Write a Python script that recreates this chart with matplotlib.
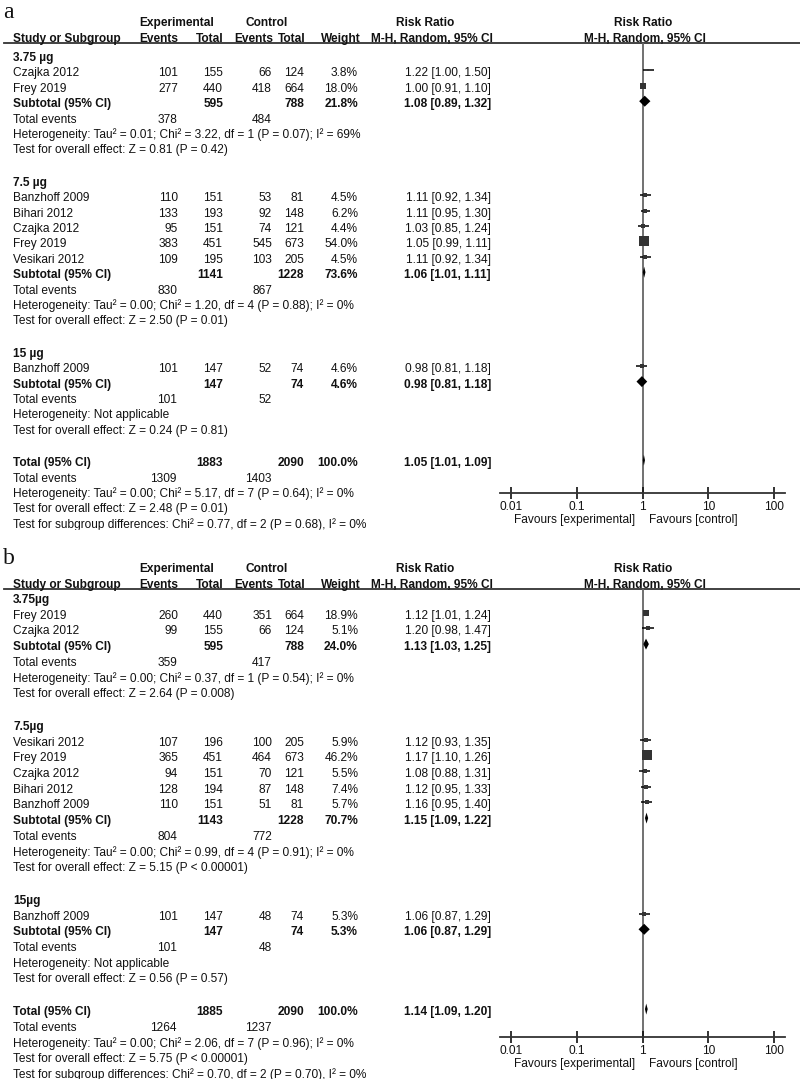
import matplotlib
matplotlib.use("Agg")
import matplotlib.pyplot as plt
import numpy as np
from matplotlib.patches import Rectangle
from matplotlib.ticker import NullLocator

W, H = 800, 1079
FS = 8.6
plt.rcParams["font.family"] = ["Liberation Sans", "DejaVu Sans"]

# ---- panel a ----
groups_a = ["3.75 µg", "7.5 µg", "15 µg"]
studies_a = [["Czajka 2012", "Frey 2019"],
             ["Banzhoff 2009", "Bihari 2012", "Czajka 2012", "Frey 2019", "Vesikari 2012"],
             ["Banzhoff 2009"]]
exp_events_a = [[101, 277], [110, 133, 95, 383, 109], [101]]
exp_total_a = [[155, 440], [151, 193, 151, 451, 195], [147]]
ctrl_events_a = [[66, 418], [53, 92, 74, 545, 103], [52]]
ctrl_total_a = [[124, 664], [81, 148, 121, 673, 205], [74]]
weight_a = [[3.8, 18.0], [4.5, 6.2, 4.4, 54.0, 4.5], [4.6]]
rr_a = [[1.22, 1.00], [1.11, 1.11, 1.03, 1.05, 1.11], [0.98]]
lo_a = [[1.00, 0.91], [0.92, 0.95, 0.85, 0.99, 0.92], [0.81]]
hi_a = [[1.50, 1.10], [1.34, 1.30, 1.24, 1.11, 1.34], [1.18]]
sub_exp_total_a = [595, 1141, 147]
sub_ctrl_total_a = [788, 1228, 74]
sub_weight_a = [21.8, 73.6, 4.6]
sub_rr_a = [1.08, 1.06, 0.98]
sub_lo_a = [0.89, 1.01, 0.81]
sub_hi_a = [1.32, 1.11, 1.18]
sub_exp_events_a = [378, 830, 101]
sub_ctrl_events_a = [484, 867, 52]
het_a = ["Tau² = 0.01; Chi² = 3.22, df = 1 (P = 0.07); I² = 69%",
         "Tau² = 0.00; Chi² = 1.20, df = 4 (P = 0.88); I² = 0%",
         "Not applicable"]
z_a = ["Z = 0.81 (P = 0.42)", "Z = 2.50 (P = 0.01)", "Z = 0.24 (P = 0.81)"]
total_a = [1883, 2090, 100.0, 1.05, 1.01, 1.09]
total_events_a = [1309, 1403]
total_het_a = "Tau² = 0.00; Chi² = 5.17, df = 7 (P = 0.64); I² = 0%"
total_z_a = "Z = 2.48 (P = 0.01)"
subdiff_a = "Chi² = 0.77, df = 2 (P = 0.68), I² = 0%"

# ---- panel b ----
groups_b = ["3.75µg", "7.5µg", "15µg"]
studies_b = [["Frey 2019", "Czajka 2012"],
             ["Vesikari 2012", "Frey 2019", "Czajka 2012", "Bihari 2012", "Banzhoff 2009"],
             ["Banzhoff 2009"]]
exp_events_b = [[260, 99], [107, 365, 94, 128, 110], [101]]
exp_total_b = [[440, 155], [196, 451, 151, 194, 151], [147]]
ctrl_events_b = [[351, 66], [100, 464, 70, 87, 51], [48]]
ctrl_total_b = [[664, 124], [205, 673, 121, 148, 81], [74]]
weight_b = [[18.9, 5.1], [5.9, 46.2, 5.5, 7.4, 5.7], [5.3]]
rr_b = [[1.12, 1.20], [1.12, 1.17, 1.08, 1.12, 1.16], [1.06]]
lo_b = [[1.01, 0.98], [0.93, 1.10, 0.88, 0.95, 0.95], [0.87]]
hi_b = [[1.24, 1.47], [1.35, 1.26, 1.31, 1.33, 1.40], [1.29]]
sub_exp_total_b = [595, 1143, 147]
sub_ctrl_total_b = [788, 1228, 74]
sub_weight_b = [24.0, 70.7, 5.3]
sub_rr_b = [1.13, 1.15, 1.06]
sub_lo_b = [1.03, 1.09, 0.87]
sub_hi_b = [1.25, 1.22, 1.29]
sub_exp_events_b = [359, 804, 101]
sub_ctrl_events_b = [417, 772, 48]
het_b = ["Tau² = 0.00; Chi² = 0.37, df = 1 (P = 0.54); I² = 0%",
         "Tau² = 0.00; Chi² = 0.99, df = 4 (P = 0.91); I² = 0%",
         "Not applicable"]
z_b = ["Z = 2.64 (P = 0.008)", "Z = 5.15 (P < 0.00001)", "Z = 0.56 (P = 0.57)"]
total_b = [1885, 2090, 100.0, 1.14, 1.09, 1.20]
total_events_b = [1264, 1237]
total_het_b = "Tau² = 0.00; Chi² = 2.06, df = 7 (P = 0.96); I² = 0%"
total_z_b = "Z = 5.75 (P < 0.00001)"
subdiff_b = "Chi² = 0.70, df = 2 (P = 0.70), I² = 0%"

ticks = [0.01, 0.1, 1, 10, 100]
tick_labels = ["0.01", "0.1", "1", "10", "100"]

# column right edges (px)
X_NAME, X_EE, X_ET, X_CE, X_CT, X_W, X_RR = 13, 178, 223, 272, 304, 358, 491


def ci_text(rr, lo, hi):
    return f"{rr:.2f} [{lo:.2f}, {hi:.2f}]"


def draw_panel(fig, tax, p, label, rule_y, start, step, gap, axis_y):
    def txt(x, yc, s, ha="right", bold=False):
        # snap baselines to whole pixels so a row stays on one line
        tax.text(x, round(yc + 4), s, ha=ha, va="baseline", fontsize=FS,
                 fontweight="bold" if bold else "normal", color="#111")

    tax.text(3, rule_y - 25, label, fontsize=17, family="Liberation Serif",
             va="baseline", color="#111")
    l1, l2 = rule_y - 21, rule_y - 5
    txt(177, l1, "Experimental", "center", True)
    txt(267, l1, "Control", "center", True)
    txt(425, l1, "Risk Ratio", "center", True)
    txt(643, l1, "Risk Ratio", "center", True)
    txt(X_NAME, l2, "Study or Subgroup", "left", True)
    txt(X_EE, l2, "Events", bold=True)
    txt(X_ET, l2, "Total", bold=True)
    txt(X_CE + 1, l2, "Events", bold=True)
    txt(X_CT + 1, l2, "Total", bold=True)
    txt(X_W + 3, l2, "Weight", bold=True)
    txt(432, l2, "M-H, Random, 95% CI", "center", True)
    txt(645, l2, "M-H, Random, 95% CI", "center", True)
    tax.plot([4, 800], [rule_y, rule_y], color="#333", lw=1.3)

    fax = fig.add_axes([500 / W, 1 - axis_y / H, 285 / W, (axis_y - rule_y) / H])
    fax.set_xscale("log")
    fax.set_xlim(10 ** -2.167, 10 ** 2.167)
    fax.set_ylim(axis_y, rule_y)
    fax.patch.set_alpha(0)
    for s in ["left", "right", "top"]:
        fax.spines[s].set_visible(False)
    fax.spines["bottom"].set_color("#333")
    fax.spines["bottom"].set_linewidth(1.3)
    fax.set_yticks([])
    fax.set_xticks(ticks)
    fax.set_xticklabels(tick_labels)
    fax.xaxis.set_minor_locator(NullLocator())
    fax.tick_params(axis="x", direction="inout", length=8, width=1.2, pad=1.5,
                    labelsize=FS, colors="#111")
    fax.axvline(1, color="#666", lw=1.3, zorder=1)

    def diamond(y, rr, lo, hi):
        fax.fill([lo, rr, hi, rr], [y, y - 5.5, y, y + 5.5], color="black", lw=0, zorder=3)

    y = start
    for g, gname in enumerate(p["groups"]):
        txt(X_NAME, y, gname, "left", True)
        y += step
        for i, st in enumerate(p["studies"][g]):
            txt(X_NAME, y, st, "left")
            txt(X_EE, y, str(p["ee"][g][i]))
            txt(X_ET, y, str(p["et"][g][i]))
            txt(X_CE, y, str(p["ce"][g][i]))
            txt(X_CT, y, str(p["ct"][g][i]))
            txt(X_W, y, f"{p['w'][g][i]:.1f}%")
            txt(X_RR, y, ci_text(p["rr"][g][i], p["lo"][g][i], p["hi"][g][i]))
            ym = y - 2
            fax.hlines(ym, p["lo"][g][i], p["hi"][g][i], color="black", lw=1.1, zorder=2)
            side = 1.456 * np.sqrt(p["w"][g][i]) * 0.72
            fax.scatter([p["rr"][g][i]], [ym], marker="s", s=side ** 2,
                        color="#333", lw=0, zorder=3)
            y += step
        txt(X_NAME, y, "Subtotal (95% CI)", "left", True)
        txt(X_ET, y, str(p["sub_et"][g]), bold=True)
        txt(X_CT, y, str(p["sub_ct"][g]), bold=True)
        txt(X_W, y, f"{p['sub_w'][g]:.1f}%", bold=True)
        txt(X_RR, y, ci_text(p["sub_rr"][g], p["sub_lo"][g], p["sub_hi"][g]), bold=True)
        diamond(y - 2, p["sub_rr"][g], p["sub_lo"][g], p["sub_hi"][g])
        y += step
        txt(X_NAME, y, "Total events", "left")
        txt(X_EE - 1, y, str(p["sub_ee"][g]))
        txt(X_CE, y, str(p["sub_ce"][g]))
        y += step
        txt(X_NAME, y, "Heterogeneity: " + p["het"][g], "left")
        y += step
        txt(X_NAME, y, "Test for overall effect: " + p["z"][g], "left")
        y += step + gap

    et, ct, w, rr, lo, hi = p["total"]
    txt(X_NAME, y, "Total (95% CI)", "left", True)
    txt(X_ET, y, str(et), bold=True)
    txt(X_CT, y, str(ct), bold=True)
    txt(X_W, y, f"{w:.1f}%", bold=True)
    txt(X_RR, y, ci_text(rr, lo, hi), bold=True)
    diamond(y - 2, rr, lo, hi)
    y += step
    txt(X_NAME, y, "Total events", "left")
    txt(X_EE - 1, y, str(p["total_events"][0]))
    txt(X_CE, y, str(p["total_events"][1]))
    y += step
    txt(X_NAME, y, "Heterogeneity: " + p["total_het"], "left")
    y += step
    txt(X_NAME, y, "Test for overall effect: " + p["total_z"], "left")
    y += step
    txt(X_NAME, y, "Test for subgroup differences: " + p["subdiff"], "left")

    txt(635, axis_y + 26, "Favours [experimental]")
    txt(649, axis_y + 26, "Favours [control]", "left")


panel_a = dict(groups=groups_a, studies=studies_a, ee=exp_events_a, et=exp_total_a,
               ce=ctrl_events_a, ct=ctrl_total_a, w=weight_a, rr=rr_a, lo=lo_a, hi=hi_a,
               sub_et=sub_exp_total_a, sub_ct=sub_ctrl_total_a, sub_w=sub_weight_a,
               sub_rr=sub_rr_a, sub_lo=sub_lo_a, sub_hi=sub_hi_a,
               sub_ee=sub_exp_events_a, sub_ce=sub_ctrl_events_a, het=het_a, z=z_a,
               total=total_a, total_events=total_events_a, total_het=total_het_a,
               total_z=total_z_a, subdiff=subdiff_a)
panel_b = dict(groups=groups_b, studies=studies_b, ee=exp_events_b, et=exp_total_b,
               ce=ctrl_events_b, ct=ctrl_total_b, w=weight_b, rr=rr_b, lo=lo_b, hi=hi_b,
               sub_et=sub_exp_total_b, sub_ct=sub_ctrl_total_b, sub_w=sub_weight_b,
               sub_rr=sub_rr_b, sub_lo=sub_lo_b, sub_hi=sub_hi_b,
               sub_ee=sub_exp_events_b, sub_ce=sub_ctrl_events_b, het=het_b, z=z_b,
               total=total_b, total_events=total_events_b, total_het=total_het_b,
               total_z=total_z_b, subdiff=subdiff_b)

fig = plt.figure(figsize=(W / 100, H / 100), dpi=100)
tax = fig.add_axes([0, 0, 1, 1])
tax.set_xlim(0, W)
tax.set_ylim(H, 0)
tax.axis("off")

draw_panel(fig, tax, panel_a, "a", 43, 57, 15.4, 17, 493)
draw_panel(fig, tax, panel_b, "b", 589, 599, 15.7, 17, 1037)

# panel a is cropped just under its last line
tax.add_patch(Rectangle((0, 530), W, 7, color="white", zorder=10))

fig.savefig("out.png", dpi=100)
